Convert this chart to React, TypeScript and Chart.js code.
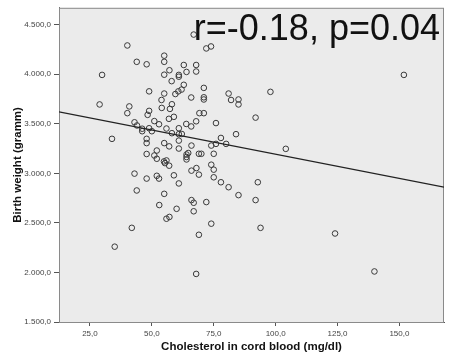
import React, { useEffect, useRef } from "react";
import { Chart, registerables } from "chart.js";

Chart.register(...registerables);

const cholesterol = [
  40.1, 66.9, 72, 73.9, 43.9, 47.9, 55, 55, 62.9, 67.9,
  67.9, 64, 57.1, 55, 60.9, 60.9, 29.9, 151.8, 58, 62.9,
  62, 60.7, 59.5, 48.9, 55, 71, 71, 71, 65.9, 81,
  82, 85, 85, 97.9, 53.9, 28.9, 58.1, 54, 57.3, 40.9,
  40.1, 48.9, 48.3, 69.2, 71, 58.9, 56.9, 91.9, 51, 43,
  44, 52.9, 63.9, 65.9, 67.9, 75.9, 46.1, 46.1, 48.9, 50,
  55.9, 60.9, 58.1, 60.9, 62.1, 84, 77.9, 33.9, 47.9, 47.9,
  55, 57, 60.9, 60.9, 66, 74, 75.9, 80, 104.1, 52,
  47.9, 51, 52, 64, 64, 64, 64.7, 69, 70, 75,
  54.9, 55.9, 55.3, 57, 74, 75, 66, 68, 69, 75,
  43, 47.9, 52, 52.9, 58.9, 60.9, 77.9, 81, 85, 92.8,
  91.9, 43.9, 55, 53, 60, 66, 66.9, 72, 66.9, 55.9,
  57.1, 41.9, 74, 93.9, 69, 35, 124, 67.9, 139.9,
];

const birthWeight = [
  4290, 4400, 4260, 4280, 4125, 4100, 4187, 4125, 4093, 4093,
  4027, 4023, 4040, 3995, 3993, 3975, 3993, 3993, 3930, 3893,
  3845, 3827, 3800, 3827, 3805, 3862, 3767, 3745, 3765, 3805,
  3740, 3745, 3695, 3822, 3740, 3695, 3697, 3660, 3650, 3675,
  3607, 3630, 3590, 3607, 3607, 3570, 3550, 3562, 3527, 3515,
  3483, 3495, 3498, 3473, 3525, 3507, 3450, 3425, 3455, 3425,
  3452, 3455, 3405, 3395, 3397, 3395, 3357, 3348, 3348, 3305,
  3305, 3272, 3330, 3250, 3280, 3280, 3297, 3297, 3247, 3230,
  3195, 3180, 3147, 3190, 3165, 3140, 3205, 3197, 3197, 3197,
  3120, 3130, 3103, 3077, 3087, 3037, 3027, 3053, 2987, 2960,
  2997, 2947, 2975, 2947, 2980, 2898, 2910, 2860, 2780, 2910,
  2730, 2827, 2793, 2680, 2642, 2730, 2703, 2710, 2617, 2542,
  2560, 2450, 2492, 2450, 2380, 2260, 2393, 1985, 2010,
];

const fitLineX = [12.5, 168];
const fitLineY = [3620, 2860];

const xTicks = [25, 50, 75, 100, 125, 150];
const yTicks = [1500, 2000, 2500, 3000, 3500, 4000, 4500];

const annotation = "r=-0.18, p=0.04";
const xTitle = "Cholesterol in cord blood (mg/dl)";
const yTitle = "Birth weight (gramm)";

const FONT = "'Liberation Sans', Arial, Helvetica, sans-serif";

function fmt(v: number): string {
  const [i, d] = v.toFixed(1).split(".");
  return i.replace(/\B(?=(\d{3})+(?!\d))/g, ".") + "," + d;
}

const plotDecor = {
  id: "plotDecor",
  beforeDatasetsDraw(chart: any) {
    const { ctx, chartArea } = chart;
    ctx.save();
    ctx.fillStyle = "#ebebeb";
    ctx.fillRect(chartArea.left, chartArea.top, chartArea.right - chartArea.left, chartArea.bottom - chartArea.top);
    ctx.strokeStyle = "#8a8a8a";
    ctx.lineWidth = 1;
    ctx.strokeRect(chartArea.left + 0.5, chartArea.top + 0.5, chartArea.right - chartArea.left - 1, chartArea.bottom - chartArea.top);
    ctx.restore();
  },
  afterDraw(chart: any) {
    const { ctx } = chart;
    ctx.save();
    ctx.font = `36px ${FONT}`;
    ctx.fillStyle = "#111";
    ctx.textAlign = "right";
    ctx.textBaseline = "alphabetic";
    ctx.fillText(annotation, 440, 39.5);
    ctx.restore();
  },
};

export default function App() {
  const ref = useRef<HTMLCanvasElement | null>(null);

  useEffect(() => {
    if (!ref.current) return;
    const points = cholesterol.map((x, i) => ({ x, y: birthWeight[i] }));
    const line = fitLineX.map((x, i) => ({ x, y: fitLineY[i] }));
    const chart = new Chart(ref.current, {
      type: "scatter",
      data: {
        datasets: [
          {
            type: "line",
            data: line,
            borderColor: "#222",
            borderWidth: 1.3,
            pointRadius: 0,
            fill: false,
            order: 0,
          } as any,
          {
            type: "scatter",
            data: points,
            pointRadius: 2.8,
            pointBorderWidth: 1,
            pointBorderColor: "#3a3a3a",
            pointBackgroundColor: "rgba(0,0,0,0)",
            order: 1,
          } as any,
        ],
      },
      options: {
        responsive: false,
        animation: false,
        events: [],
        layout: { padding: { left: 0, right: 2, top: 7, bottom: 0 } },
        plugins: { legend: { display: false }, tooltip: { enabled: false } },
        scales: {
          x: {
            type: "linear",
            min: 12.5,
            max: 168,
            afterBuildTicks: (s: any) => {
              s.ticks = xTicks.map((v) => ({ value: v }));
            },
            afterFit: (s: any) => {
              s.height = 36;
            },
            grid: { drawOnChartArea: false, drawTicks: true, tickLength: 4, color: "#555" },
            border: { display: true, color: "#555", width: 1 },
            ticks: {
              padding: 3,
              color: "#444",
              font: { size: 8, family: FONT },
              maxRotation: 0,
              callback: (v: any) => fmt(Number(v)),
            },
            title: {
              display: true,
              text: xTitle,
              color: "#111",
              font: { size: 11.5, weight: "bold", family: FONT },
              padding: { top: 0, bottom: 4 },
            },
          },
          y: {
            type: "linear",
            min: 1500,
            max: 4670,
            afterBuildTicks: (s: any) => {
              s.ticks = yTicks.map((v) => ({ value: v }));
            },
            afterFit: (s: any) => {
              s.width = 59;
            },
            grid: { drawOnChartArea: false, drawTicks: true, tickLength: 5, color: "#555" },
            border: { display: true, color: "#555", width: 1 },
            ticks: {
              padding: 3,
              color: "#444",
              font: { size: 8, family: FONT },
              callback: (v: any) => fmt(Number(v)),
            },
            title: {
              display: true,
              text: yTitle,
              color: "#111",
              font: { size: 11.5, weight: "bold", family: FONT },
              padding: { top: 11, bottom: 0 },
            },
          },
        },
      } as any,
      plugins: [plotDecor],
    });
    return () => chart.destroy();
  }, []);

  return (
    <div style={{ position: "absolute", left: 0, top: 0, width: 449, height: 358, background: "#fff" }}>
      <canvas ref={ref} width={449} height={358} style={{ display: "block" }} />
    </div>
  );
}
